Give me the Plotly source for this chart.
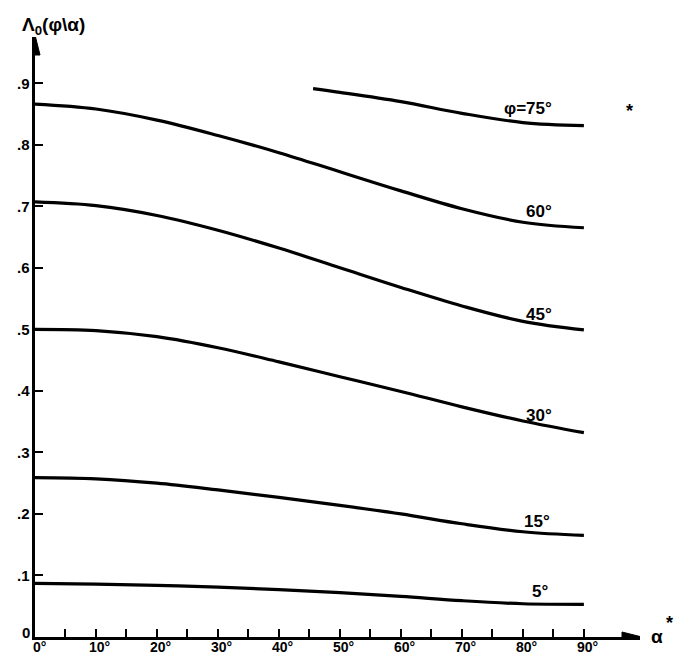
import plotly.graph_objects as go

# ---- data ----
alpha = [0, 10, 20, 30, 40, 50, 60, 70, 80, 90]
phi60 = [0.866, 0.858, 0.840, 0.815, 0.787, 0.756, 0.725, 0.696, 0.674, 0.665]
phi45 = [0.707, 0.701, 0.685, 0.661, 0.632, 0.600, 0.568, 0.538, 0.513, 0.499]
phi30 = [0.500, 0.498, 0.488, 0.470, 0.447, 0.423, 0.399, 0.374, 0.351, 0.332]
phi15 = [0.259, 0.257, 0.250, 0.239, 0.227, 0.214, 0.200, 0.184, 0.171, 0.165]
phi5 = [0.087, 0.086, 0.084, 0.081, 0.077, 0.072, 0.066, 0.059, 0.054, 0.053]
alpha75 = [45.6, 50, 60, 70, 80, 90]
phi75 = [0.891, 0.885, 0.870, 0.851, 0.836, 0.831]

curve_labels = ["φ=75°", "60°", "45°", "30°", "15°", "5°"]
label_x = [80.8, 82.6, 82.6, 82.6, 82.3, 82.8]
label_y = [0.859, 0.692, 0.524, 0.360, 0.188, 0.074]

x_tickvals = [5, 10, 15, 20, 25, 30, 35, 40, 45, 50, 55, 60, 65, 70, 75, 80, 85, 90]
x_labelvals = [0, 10, 20, 30, 40, 50, 60, 70, 80, 90]
x_labeltext = ["0°", "10°", "20°", "30°", "40°", "50°", "60°", "70°", "80°", "90°"]
y_tickvals = [0.1, 0.2, 0.3, 0.4, 0.5, 0.6, 0.7, 0.8, 0.9]
y_labelvals = [0, 0.1, 0.2, 0.3, 0.4, 0.5, 0.6, 0.7, 0.8, 0.9]
y_labeltext = ["0", ".1", ".2", ".3", ".4", ".5", ".6", ".7", ".8", ".9"]

X_MAX = 99.2
Y_MAX = 0.975
FONT = "Liberation Sans"


def bold(size):
    return dict(family=FONT, size=size, color="black", weight="bold")


fig = go.Figure()
line = dict(color="black", width=3.2, shape="spline", smoothing=1.0)
for xs, ys in [(alpha75, phi75), (alpha, phi60), (alpha, phi45),
               (alpha, phi30), (alpha, phi15), (alpha, phi5)]:
    fig.add_trace(go.Scatter(x=xs, y=ys, mode="lines", line=line,
                             hoverinfo="skip", showlegend=False))

annotations = []
for t, x, y in zip(curve_labels, label_x, label_y):
    annotations.append(dict(x=x, y=y, text=t, showarrow=False, font=bold(17)))
for v, t in zip(x_labelvals, x_labeltext):
    annotations.append(dict(x=v, y=0, text=t, showarrow=False, xanchor="center",
                            yanchor="middle", yshift=-10, xshift=4, font=bold(14)))
for v, t in zip(y_labelvals, y_labeltext):
    annotations.append(dict(x=0, y=v, text=t, showarrow=False, xanchor="right",
                            yanchor="middle", xshift=-3, yshift=(5 if v == 0 else 0),
                            font=bold(15)))
annotations += [
    dict(x=1.041, xref="paper", y=0, yref="y", text="α", showarrow=False,
         yshift=1, font=bold(19)),
    dict(x=1.058, xref="paper", y=0.022, yref="y", text="*", showarrow=False,
         font=bold(18)),
    dict(x=97.5, y=0.854, text="*", showarrow=False, font=bold(18)),
    dict(x=0.03, y=1.0, xref="paper", yref="paper", yshift=11,
         text="Λ<sub>0</sub>(φ\\α)", showarrow=False, xanchor="center", yanchor="middle",
         font=bold(19)),
]

shapes = [
    dict(type="path", xref="x", yref="y", xsizemode="pixel", ysizemode="pixel",
         xanchor=X_MAX, yanchor=0, path="M 2,0 L -18,5 L -18,-5 Z",
         fillcolor="black", line=dict(color="black", width=1)),
    dict(type="path", xref="x", yref="y", xsizemode="pixel", ysizemode="pixel",
         xanchor=0, yanchor=Y_MAX, path="M 0,2 L -5,-18 L 5,-18 Z",
         fillcolor="black", line=dict(color="black", width=1)),
]

fig.update_layout(
    width=676, height=655,
    margin=dict(l=35, r=36, t=37, b=18),
    paper_bgcolor="white", plot_bgcolor="white",
    showlegend=False,
    annotations=annotations,
    shapes=shapes,
    xaxis=dict(range=[0, X_MAX], showgrid=False, zeroline=False,
               showline=True, linecolor="black", linewidth=3,
               ticks="inside", ticklen=8, tickwidth=2, tickcolor="black",
               tickvals=x_tickvals, showticklabels=False),
    yaxis=dict(range=[0, Y_MAX], showgrid=False, zeroline=False,
               showline=True, linecolor="black", linewidth=3,
               ticks="inside", ticklen=8, tickwidth=2, tickcolor="black",
               tickvals=y_tickvals, showticklabels=False),
)

fig.write_html("out.html", config={"displayModeBar": False},
               post_script="document.body.style.margin='0';document.body.style.overflow='hidden';")
